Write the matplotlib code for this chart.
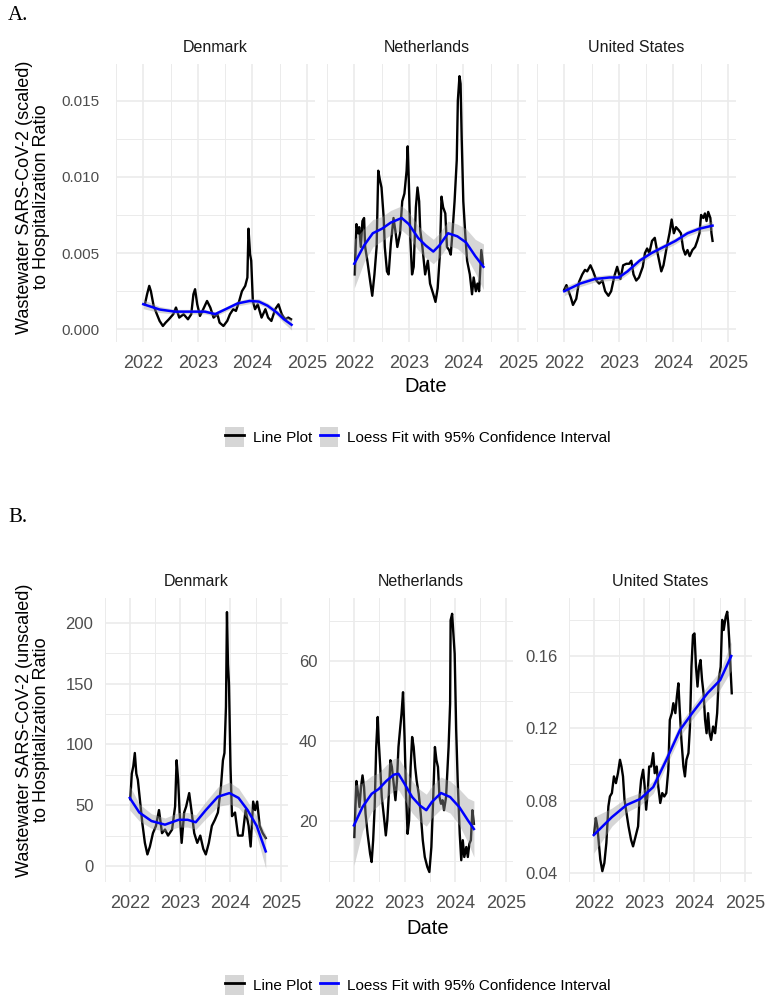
import numpy as np
import matplotlib.pyplot as plt
from matplotlib.patches import Patch
from matplotlib.lines import Line2D

# ---------------- data (decimal years) ----------------
# A. scaled ratio
dk_a_yr = [2022.03, 2022.07, 2022.11, 2022.14, 2022.19, 2022.25, 2022.30, 2022.36, 2022.41, 2022.47,
           2022.55, 2022.60, 2022.66, 2022.74, 2022.82, 2022.88, 2022.92, 2022.95, 2022.99, 2023.04,
           2023.10, 2023.17, 2023.23, 2023.29, 2023.36, 2023.40, 2023.47, 2023.54, 2023.59, 2023.65,
           2023.70, 2023.76, 2023.81, 2023.87, 2023.91, 2023.93, 2023.96, 2023.98, 2024.01, 2024.05,
           2024.10, 2024.17, 2024.24, 2024.29, 2024.35, 2024.42, 2024.48, 2024.54, 2024.60, 2024.66,
           2024.71]
dk_a_val = [0.00164, 0.0023, 0.00285, 0.0025, 0.00154, 0.00099, 0.00055, 0.00022, 0.00044, 0.00066,
            0.00099, 0.00143, 0.00077, 0.00099, 0.00066, 0.00099, 0.0023, 0.00263, 0.00164, 0.00088,
            0.00132, 0.00186, 0.00143, 0.00077, 0.00099, 0.00044, 0.00022, 0.00055, 0.00099, 0.00132,
            0.00121, 0.00186, 0.0025, 0.00285, 0.0034, 0.0066, 0.0049, 0.0045, 0.00186, 0.00132,
            0.00164, 0.00077, 0.00132, 0.00077, 0.00055, 0.00132, 0.00164, 0.00099, 0.00066, 0.00077,
            0.00066]
dk_a_fit_yr = [2022.0, 2022.30, 2022.58, 2022.85, 2023.13, 2023.32, 2023.51, 2023.73, 2023.95,
               2024.12, 2024.28, 2024.45, 2024.58, 2024.72]
dk_a_fit = [0.00165, 0.0013, 0.00116, 0.00116, 0.00116, 0.0010, 0.00132, 0.0017, 0.00186,
            0.00182, 0.00155, 0.00110, 0.00066, 0.0003]
dk_a_ci = [0.0003, 0.0002, 0.00015, 0.00015, 0.00015, 0.00015, 0.00015, 0.00016, 0.00018,
           0.00018, 0.00018, 0.0002, 0.00025, 0.00035]

nl_a_yr = [2022.01, 2022.04, 2022.07, 2022.09, 2022.12, 2022.15, 2022.18, 2022.20, 2022.24, 2022.29,
           2022.33, 2022.37, 2022.41, 2022.44, 2022.47, 2022.50, 2022.54, 2022.56, 2022.60, 2022.63,
           2022.67, 2022.72, 2022.76, 2022.79, 2022.84, 2022.88, 2022.92, 2022.96, 2022.98, 2023.00,
           2023.03, 2023.06, 2023.09, 2023.13, 2023.16, 2023.19, 2023.21, 2023.25, 2023.30, 2023.35,
           2023.39, 2023.45, 2023.49, 2023.53, 2023.57, 2023.60, 2023.63, 2023.67, 2023.70, 2023.74,
           2023.77, 2023.80, 2023.84, 2023.88, 2023.90, 2023.93, 2023.95, 2023.97, 2024.00, 2024.04,
           2024.07, 2024.12, 2024.16, 2024.19, 2024.23, 2024.26, 2024.29, 2024.33, 2024.36]
nl_a_val = [0.0036, 0.0069, 0.0063, 0.0067, 0.0054, 0.0071, 0.0073, 0.0054, 0.0045, 0.0032,
            0.0022, 0.0036, 0.0054, 0.0104, 0.0098, 0.0093, 0.0073, 0.0054, 0.0038, 0.0036,
            0.0056, 0.0073, 0.0063, 0.0054, 0.0063, 0.0084, 0.0089, 0.0104, 0.0120, 0.0098,
            0.0058, 0.0036, 0.0041, 0.0080, 0.0093, 0.0084, 0.0065, 0.0054, 0.0036, 0.0045,
            0.0030, 0.0023, 0.0018, 0.0027, 0.0049, 0.0087, 0.0080, 0.0076, 0.0054, 0.0052,
            0.0049, 0.0063, 0.0084, 0.0111, 0.0150, 0.0166, 0.0161, 0.0126, 0.0084, 0.0060,
            0.0045, 0.0036, 0.0023, 0.0034, 0.0025, 0.0030, 0.0025, 0.0052, 0.0043]
nl_a_fit_yr = [2022.0, 2022.18, 2022.34, 2022.51, 2022.67, 2022.87, 2023.0, 2023.17, 2023.31,
               2023.45, 2023.56, 2023.72, 2023.89, 2024.05, 2024.22, 2024.37]
nl_a_fit = [0.0043, 0.0055, 0.0063, 0.0066, 0.0070, 0.0073, 0.0069, 0.0060, 0.0055,
            0.0051, 0.0055, 0.0063, 0.0061, 0.0057, 0.0048, 0.0041]
nl_a_ci = [0.0016, 0.0011, 0.0009, 0.0008, 0.0008, 0.0008, 0.0008, 0.0008, 0.0008,
           0.0008, 0.0008, 0.0008, 0.0008, 0.0009, 0.0011, 0.0015]

us_a_yr = [2022.00, 2022.04, 2022.08, 2022.12, 2022.16, 2022.22, 2022.27, 2022.33, 2022.38, 2022.42,
           2022.48, 2022.53, 2022.59, 2022.64, 2022.70, 2022.75, 2022.81, 2022.86, 2022.92, 2022.97,
           2023.03, 2023.08, 2023.14, 2023.19, 2023.23, 2023.27, 2023.32, 2023.37, 2023.44, 2023.48,
           2023.52, 2023.56, 2023.61, 2023.66, 2023.70, 2023.74, 2023.78, 2023.82, 2023.88, 2023.93,
           2023.97, 2024.01, 2024.05, 2024.10, 2024.14, 2024.18, 2024.22, 2024.26, 2024.30, 2024.35,
           2024.40, 2024.44, 2024.48, 2024.51, 2024.55, 2024.58, 2024.61, 2024.64, 2024.68, 2024.70,
           2024.72]
us_a_val = [0.0026, 0.0029, 0.0025, 0.0021, 0.0016, 0.0020, 0.0031, 0.0036, 0.0039, 0.0038,
            0.0042, 0.0038, 0.0032, 0.0030, 0.0032, 0.0025, 0.0022, 0.0025, 0.0035, 0.0041,
            0.0033, 0.0042, 0.0043, 0.0043, 0.0045, 0.0036, 0.0032, 0.0034, 0.0041, 0.0050,
            0.0053, 0.0050, 0.0058, 0.0060, 0.0052, 0.0045, 0.0038, 0.0042, 0.0054, 0.0063,
            0.0072, 0.0063, 0.0067, 0.0065, 0.0063, 0.0053, 0.0049, 0.0052, 0.0048, 0.0052,
            0.0054, 0.0058, 0.0063, 0.0075, 0.0073, 0.0076, 0.0071, 0.0077, 0.0073, 0.0063,
            0.0058]
us_a_fit_yr = [2022.0, 2022.29, 2022.56, 2022.83, 2023.0, 2023.16, 2023.38, 2023.60, 2023.82,
               2024.04, 2024.26, 2024.48, 2024.72]
us_a_fit = [0.0025, 0.0030, 0.0033, 0.0034, 0.0034, 0.0038, 0.0045, 0.0050, 0.0054,
            0.0058, 0.0063, 0.0066, 0.0068]
us_a_ci = [0.0003, 0.0002, 0.0002, 0.0002, 0.0002, 0.0002, 0.0002, 0.0002, 0.0002,
           0.0002, 0.0002, 0.0002, 0.0003]

# B. unscaled ratio
dk_b_yr = [2022.01, 2022.04, 2022.07, 2022.10, 2022.13, 2022.16, 2022.20, 2022.25, 2022.30, 2022.35,
           2022.40, 2022.46, 2022.52, 2022.58, 2022.64, 2022.70, 2022.76, 2022.84, 2022.90, 2022.93,
           2022.96, 2022.99, 2023.03, 2023.08, 2023.12, 2023.18, 2023.23, 2023.28, 2023.34, 2023.40,
           2023.46, 2023.51, 2023.57, 2023.63, 2023.69, 2023.75, 2023.81, 2023.85, 2023.88, 2023.91,
           2023.93, 2023.95, 2023.97, 2024.00, 2024.03, 2024.09, 2024.15, 2024.24, 2024.30, 2024.36,
           2024.40, 2024.45, 2024.49, 2024.53, 2024.58, 2024.64, 2024.70]
dk_b_val = [55, 76, 82, 93, 76, 71, 55, 35, 19, 9.5,
            16, 27, 33, 46, 27, 30, 25, 30, 49, 87,
            71, 44, 19, 44, 49, 60, 44, 27, 19, 25,
            14, 9.5, 19, 33, 38, 44, 65, 87, 93, 131,
            209, 166, 150, 82, 41, 44, 25, 25, 46, 33,
            16, 53, 46, 53, 33, 27, 23]
dk_b_fit_yr = [2022.0, 2022.19, 2022.43, 2022.70, 2022.97, 2023.15, 2023.31, 2023.51, 2023.75,
               2023.98, 2024.16, 2024.34, 2024.52, 2024.70]
dk_b_fit = [56, 44, 37, 34, 38, 38, 36, 46, 57, 60, 56, 46, 33, 12]
dk_b_ci = [10, 7, 6, 5.5, 6, 6, 6, 7, 8, 9, 8, 7, 8, 14]

nl_b_yr = [2022.01, 2022.03, 2022.05, 2022.08, 2022.11, 2022.14, 2022.17, 2022.20, 2022.23, 2022.27,
           2022.32, 2022.35, 2022.38, 2022.41, 2022.44, 2022.47, 2022.49, 2022.52, 2022.55, 2022.60,
           2022.63, 2022.66, 2022.69, 2022.72, 2022.75, 2022.78, 2022.82, 2022.85, 2022.88, 2022.91,
           2022.94, 2022.97, 2023.00, 2023.03, 2023.06, 2023.09, 2023.12, 2023.15, 2023.18, 2023.21,
           2023.24, 2023.28, 2023.32, 2023.36, 2023.40, 2023.45, 2023.49, 2023.53, 2023.56, 2023.60,
           2023.63, 2023.66, 2023.69, 2023.72, 2023.75, 2023.78, 2023.82, 2023.87, 2023.90, 2023.91,
           2023.94, 2023.96, 2023.99, 2024.02, 2024.05, 2024.09, 2024.12, 2024.15, 2024.18, 2024.22,
           2024.25, 2024.28, 2024.31, 2024.34, 2024.37]
nl_b_val = [16, 23.5, 30, 27, 23.5, 28.5, 31.4, 28.5, 21.8, 16.8,
            11.8, 9.75, 15.2, 23.5, 38.5, 46, 40, 33.5, 26, 20.2,
            16.4, 20.2, 26.8, 35.2, 33.5, 30, 25.2, 30, 38.5, 42.7,
            46.8, 52.2, 41, 26.8, 16.8, 20.2, 33.5, 41, 38.5, 33.5,
            30, 26.8, 21.8, 15.2, 11, 8.5, 7.25, 13.5, 23.5, 38.5,
            35.2, 33.5, 26, 24.3, 25.2, 22.7, 26, 38.5, 49.3, 70.2,
            71.8, 67.7, 61.8, 42.7, 30, 16.8, 10.2, 15.2, 11, 13.5,
            11, 14.3, 15.2, 22.7, 19.3]
nl_b_fit_yr = [2022.0, 2022.17, 2022.35, 2022.49, 2022.64, 2022.79, 2022.88, 2023.0, 2023.15,
               2023.30, 2023.43, 2023.54, 2023.72, 2023.90, 2024.08, 2024.25, 2024.37]
nl_b_fit = [18.9, 23.5, 26.8, 28, 30, 31.6, 31.8, 29.3, 26, 23.9, 22.7, 24.75, 27, 26, 23.5, 20.2, 18]
nl_b_ci = [10, 6, 4.5, 4, 4, 4, 4, 4, 4, 4, 4, 4, 4, 4, 4.5, 5.5, 7]

us_b_yr = [2022.01, 2022.04, 2022.07, 2022.10, 2022.13, 2022.17, 2022.21, 2022.25, 2022.29, 2022.32,
           2022.36, 2022.40, 2022.44, 2022.48, 2022.52, 2022.55, 2022.58, 2022.61, 2022.65, 2022.69,
           2022.74, 2022.78, 2022.83, 2022.88, 2022.91, 2022.94, 2022.98, 2023.01, 2023.04, 2023.07,
           2023.10, 2023.14, 2023.18, 2023.21, 2023.25, 2023.28, 2023.32, 2023.36, 2023.40, 2023.44,
           2023.48, 2023.51, 2023.55, 2023.58, 2023.62, 2023.65, 2023.68, 2023.71, 2023.74, 2023.78,
           2023.81, 2023.84, 2023.88, 2023.91, 2023.94, 2023.97, 2024.00, 2024.03, 2024.06, 2024.09,
           2024.12, 2024.15, 2024.18, 2024.21, 2024.24, 2024.27, 2024.30, 2024.33, 2024.37, 2024.41,
           2024.45, 2024.48, 2024.52, 2024.55, 2024.58, 2024.62, 2024.65, 2024.67, 2024.69, 2024.72,
           2024.74]
us_b_val = [0.062, 0.0704, 0.0658, 0.0566, 0.0474, 0.041, 0.0455, 0.0566, 0.0768, 0.0823,
            0.0842, 0.0934, 0.0897, 0.0952, 0.1026, 0.0989, 0.0934, 0.0805, 0.0731, 0.0658,
            0.0584, 0.0547, 0.0602, 0.0658, 0.0823, 0.0915, 0.0971, 0.0879, 0.075, 0.0842,
            0.0989, 0.0989, 0.1063, 0.0952, 0.0989, 0.0879, 0.0787, 0.0842, 0.0823, 0.0842,
            0.0971, 0.1247, 0.1284, 0.1339, 0.1284, 0.1376, 0.1449, 0.1284, 0.1136, 0.0989,
            0.0934, 0.1026, 0.1063, 0.121, 0.1541, 0.1716, 0.1725, 0.154, 0.1431, 0.1541,
            0.1578, 0.1468, 0.1394, 0.1247, 0.1173, 0.1284, 0.1173, 0.1136, 0.121, 0.1173,
            0.1284, 0.1468, 0.154, 0.18, 0.1744, 0.1817, 0.1845, 0.1781, 0.1689, 0.1504,
            0.1394]
us_b_fit_yr = [2022.0, 2022.36, 2022.65, 2022.92, 2023.18, 2023.44, 2023.71, 2023.97, 2024.26,
               2024.51, 2024.73]
us_b_fit = [0.061, 0.0709, 0.0776, 0.0809, 0.0875, 0.1025, 0.119, 0.129, 0.1395, 0.1467, 0.160]
us_b_ci = [0.010, 0.005, 0.004, 0.0035, 0.0035, 0.0035, 0.0035, 0.0035, 0.004, 0.005, 0.008]

countries = ["Denmark", "Netherlands", "United States"]
year_ticks = [2022, 2023, 2024, 2025]

# ---------------- styling ----------------
W, H = 767, 999
GRID = "#EBEBEB"
TICK_C = "#4D4D4D"
SANS = ["Liberation Sans", "DejaVu Sans"]
plt.rcParams["font.family"] = SANS

fig = plt.figure(figsize=(W / 100, H / 100), dpi=100)


def px_axes(x0, y0, x1, y1):
    # pixel box (top-left origin) -> figure axes
    return fig.add_axes([x0 / W, 1 - y1 / H, (x1 - x0) / W, (y1 - y0) / H])


def draw_panel(ax, yrs, vals, fit_yr, fit, ci, ylim, major, minor, fmt, ylabels=True, ypad=8):
    fit = np.array(fit)
    ci = np.array(ci)
    ax.plot(yrs, vals, color="black", lw=1.7, zorder=2)
    ax.fill_between(fit_yr, fit - ci, fit + ci, color="#999999", alpha=0.4, lw=0, zorder=3)
    ax.plot(fit_yr, fit, color="blue", lw=1.8, zorder=4)
    ax.set_xlim(2021.85, 2025.15)
    ax.set_ylim(*ylim)
    ax.set_xticks(year_ticks)
    ax.set_xticks([2021.5, 2022.5, 2023.5, 2024.5], minor=True)
    ax.set_yticks(major)
    ax.set_yticks(minor, minor=True)
    ax.set_yticklabels([fmt.format(v) for v in major] if ylabels else [])
    ax.set_xticklabels([str(y) for y in year_ticks])
    ax.grid(which="major", color=GRID, lw=1.2, zorder=0)
    ax.grid(which="minor", color=GRID, lw=0.7, zorder=0)
    ax.set_axisbelow(True)
    for s in ax.spines.values():
        s.set_visible(False)
    ax.tick_params(which="both", length=0)
    ax.tick_params(axis="x", labelsize=13, labelcolor=TICK_C, pad=9)
    ax.tick_params(axis="y", labelsize=12, labelcolor=TICK_C, pad=ypad)


# ---------------- A ----------------
a_boxes = [(116, 315), (327, 526), (537, 736)]
a_data = [(dk_a_yr, dk_a_val, dk_a_fit_yr, dk_a_fit, dk_a_ci),
          (nl_a_yr, nl_a_val, nl_a_fit_yr, nl_a_fit, nl_a_ci),
          (us_a_yr, us_a_val, us_a_fit_yr, us_a_fit, us_a_ci)]
for i, ((x0, x1), d) in enumerate(zip(a_boxes, a_data)):
    ax = px_axes(x0, 63.5, x1, 342)
    draw_panel(ax, *d, ylim=(-0.00083, 0.01743),
               major=[0.0, 0.005, 0.010, 0.015], minor=[0.0025, 0.0075, 0.0125],
               fmt="{:.3f}", ylabels=(i == 0), ypad=12)
    if i == 0:
        ax.tick_params(axis="y", labelsize=11)
    fig.text((x0 + x1) / 2 / W, 1 - 48 / H, countries[i], ha="center", va="center",
             fontsize=11.5, color="#1A1A1A")

# ---------------- B ----------------
b_boxes = [(104.6, 288.4), (328.6, 513.4), (568.6, 752.4)]
b_data = [(dk_b_yr, dk_b_val, dk_b_fit_yr, dk_b_fit, dk_b_ci),
          (nl_b_yr, nl_b_val, nl_b_fit_yr, nl_b_fit, nl_b_ci),
          (us_b_yr, us_b_val, us_b_fit_yr, us_b_fit, us_b_ci)]
b_scales = [dict(ylim=(-13.2, 220.6), major=[0, 50, 100, 150, 200], minor=[25, 75, 125, 175], fmt="{:.0f}"),
            dict(ylim=(4.75, 75.75), major=[20, 40, 60], minor=[10, 30, 50, 70], fmt="{:.0f}"),
            dict(ylim=(0.035, 0.1921), major=[0.04, 0.08, 0.12, 0.16], minor=[0.06, 0.10, 0.14, 0.18],
                 fmt="{:.2f}")]
for i, ((x0, x1), d, sc) in enumerate(zip(b_boxes, b_data, b_scales)):
    ax = px_axes(x0, 598, x1, 882)
    draw_panel(ax, *d, **sc)
    fig.text((x0 + x1) / 2 / W, 1 - 582 / H, countries[i], ha="center", va="center",
             fontsize=11.5, color="#1A1A1A")

# ---------------- labels ----------------
fig.text(8 / W, 1 - 16 / H, "A.", family=["Liberation Serif"], fontsize=15, va="center", ha="left")
fig.text(8 / W, 1 - 518 / H, "B.", family=["Liberation Serif"], fontsize=15, va="center", ha="left")

fig.text(33 / W, 1 - 197 / H, "Wastewater SARS-CoV-2 (scaled)\nto Hospitalization Ratio",
         rotation=90, ha="center", va="center", fontsize=13, linespacing=1.05)
fig.text(33 / W, 1 - 730 / H, "Wastewater SARS-CoV-2 (unscaled)\nto Hospitalization Ratio",
         rotation=90, ha="center", va="center", fontsize=13, linespacing=1.05)

fig.text(426 / W, 1 - 387 / H, "Date", ha="center", va="center", fontsize=14.5)
fig.text(428 / W, 1 - 928 / H, "Date", ha="center", va="center", fontsize=14.5)

handles = [(Patch(facecolor="#999999", alpha=0.4, edgecolor="none"), Line2D([], [], color="black", lw=2)),
           (Patch(facecolor="#999999", alpha=0.4, edgecolor="none"), Line2D([], [], color="blue", lw=2))]
labels = ["Line Plot", "Loess Fit with 95% Confidence Interval"]
for ly in (437, 985):
    fig.legend(handles, labels, loc="center", bbox_to_anchor=(418 / W, 1 - ly / H), ncol=2,
               frameon=False, fontsize=11, handlelength=1.2, handleheight=1.6,
               handletextpad=0.6, columnspacing=0.5, borderpad=0)

fig.savefig("out.png", dpi=100)
